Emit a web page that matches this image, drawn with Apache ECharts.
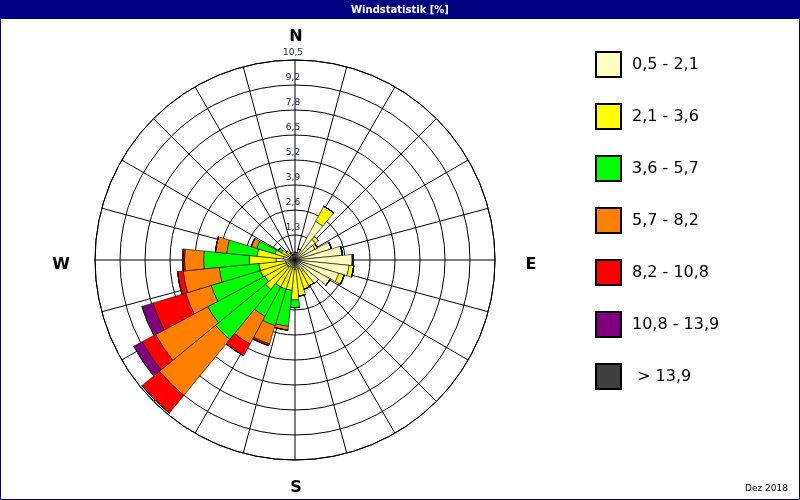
<!DOCTYPE html>
<html><head><meta charset="utf-8">
<script src="https://cdn.jsdelivr.net/npm/echarts@6/dist/echarts.min.js"></script>
<style>html,body{margin:0;padding:0;background:#fff}#c{width:800px;height:500px}</style>
</head><body><div id="c"></div>
<script>
const directions = Array.from({length:32},(_,i)=>String(i));
const classNames = ['0,5 - 2,1','2,1 - 3,6','3,6 - 5,7','5,7 - 8,2','8,2 - 10,8','10,8 - 13,9',' > 13,9'];
const classColors = ['#ffffc0','#ffff00','#00ff00','#ff8000','#ff0000','#800080','#404040'];
// values per direction (N, then clockwise in 11.25° steps)
const c1 = [0.3,0.4,0.6,2.3,1.4,1.2,2.0,2.5,3.0,2.85,2.4,2.1,1.6,0.7,0.5,0.4,0.5,0.4,0.4,0.4,0.5,0.5,0.5,0.5,1.0,0.6,0.3,0.3,0.3,0.3,0.3,0.3];
const c2 = [0.1,0,0,0.9,0.2,0.15,0,0,0.05,0.25,0.3,0,0,0.85,1.1,1.5,1.6,1.2,1.2,1.2,1.5,1.3,1.4,1.4,1.4,1.4,0.8,0.5,0.3,0.1,0,0];
const c3 = [0,0,0,0,0,0,0,0,0,0,0,0,0,0,0,0,0.4,1.9,2.0,1.75,3.4,3.4,2.7,2.1,2.4,1.6,1.0,0.2,0,0,0,0];
const c4 = [0,0,0,0,0,0,0,0,0,0,0,0,0,0,0,0,0,0.2,1.0,1.65,3.8,3.1,1.4,1.9,1.0,0.6,0.3,0,0,0,0,0];
const c5 = [0,0,0,0,0,0,0,0,0,0,0,0,0,0,0,0,0,0,0.1,0.7,1.2,0.8,1.8,0.3,0.1,0,0,0,0,0,0,0];
const c6 = [0,0,0,0,0,0,0,0,0,0,0,0,0,0,0,0,0,0,0,0,0,0.5,0.6,0,0,0,0,0,0,0,0,0];
const c7 = new Array(32).fill(0);
const ringLabels = ['1,3','2,6','3,9','5,2','6,5','7,8','9,2','10,5'];
const rMax = 10.5, cx = 295, cy = 260, R = 200;

const chart = echarts.init(document.getElementById('c'));
const dataSets = [c1,c2,c3,c4,c5,c6,c7];
const series = dataSets.map((d,i)=>({
  type:'bar', coordinateSystem:'polar', polarIndex:1, stack:'w', name:classNames[i],
  data:d, barCategoryGap:'0%', itemStyle:{color:classColors[i], borderColor:'#000', borderWidth:0.6},
  emphasis:{disabled:true}
}));
const graphics = [
  {type:'rect', shape:{x:0,y:0,width:800,height:19}, style:{fill:'#000080'}},
  {type:'rect', shape:{x:0.5,y:0.5,width:799,height:499}, style:{fill:'none',stroke:'#000080',lineWidth:1}},
  {type:'text', x:400, y:10, style:{text:'Windstatistik [%]', fill:'#fff', font:'bold 10px Verdana, DejaVu Sans', align:'center', verticalAlign:'middle'}},
  {type:'text', x:296, y:37, style:{text:'N', fill:'#000', font:'bold 16px Verdana, DejaVu Sans', align:'center', verticalAlign:'middle'}},
  {type:'text', x:296, y:488, style:{text:'S', fill:'#000', font:'bold 16px Verdana, DejaVu Sans', align:'center', verticalAlign:'middle'}},
  {type:'text', x:531, y:265, style:{text:'E', fill:'#000', font:'bold 16px Verdana, DejaVu Sans', align:'center', verticalAlign:'middle'}},
  {type:'text', x:61, y:265, style:{text:'W', fill:'#000', font:'bold 16px Verdana, DejaVu Sans', align:'center', verticalAlign:'middle'}},
  {type:'text', x:788, y:489, style:{text:'Dez 2018', fill:'#000', font:'9px Verdana, DejaVu Sans', align:'right', verticalAlign:'middle'}}
];
ringLabels.forEach((t,k)=>{
  graphics.push({type:'text', x:cx-2, y:cy - R*(k+1)/8 - 7, z:10,
    style:{text:t, fill:'#202050', font:'9px Verdana, DejaVu Sans', align:'center', verticalAlign:'middle'}});
});
chart.setOption({
  animation:false,
  polar:[{center:[cx,cy],radius:R},{center:[cx,cy],radius:R}],
  angleAxis:[
    {polarIndex:0,type:'value',min:0,max:360,interval:15,startAngle:90,clockwise:true,
     axisLine:{lineStyle:{color:'#000',width:1}},axisTick:{show:false},axisLabel:{show:false},
     splitLine:{lineStyle:{color:'#000',width:1}}},
    {polarIndex:1,type:'category',data:directions,startAngle:95.625,clockwise:true,
     axisLine:{show:false},axisTick:{show:false},axisLabel:{show:false},splitLine:{show:false}}
  ],
  radiusAxis:[
    {polarIndex:0,type:'value',min:0,max:rMax,interval:rMax/8,axisLine:{show:false},axisTick:{show:false},
     axisLabel:{show:false},splitLine:{lineStyle:{color:'#000',width:1}}},
    {polarIndex:1,type:'value',min:0,max:rMax,axisLine:{show:false},axisTick:{show:false},
     axisLabel:{show:false},splitLine:{show:false}}
  ],
  legend:{orient:'vertical',left:590,top:46,itemWidth:25,itemHeight:25,itemGap:25,icon:'rect',
    selectedMode:false,textStyle:{fontSize:16,fontFamily:'Verdana, DejaVu Sans',color:'#000',padding:[0,0,0,6]},
    data:classNames},
  graphic:graphics,
  series:series
});
</script></body></html>
